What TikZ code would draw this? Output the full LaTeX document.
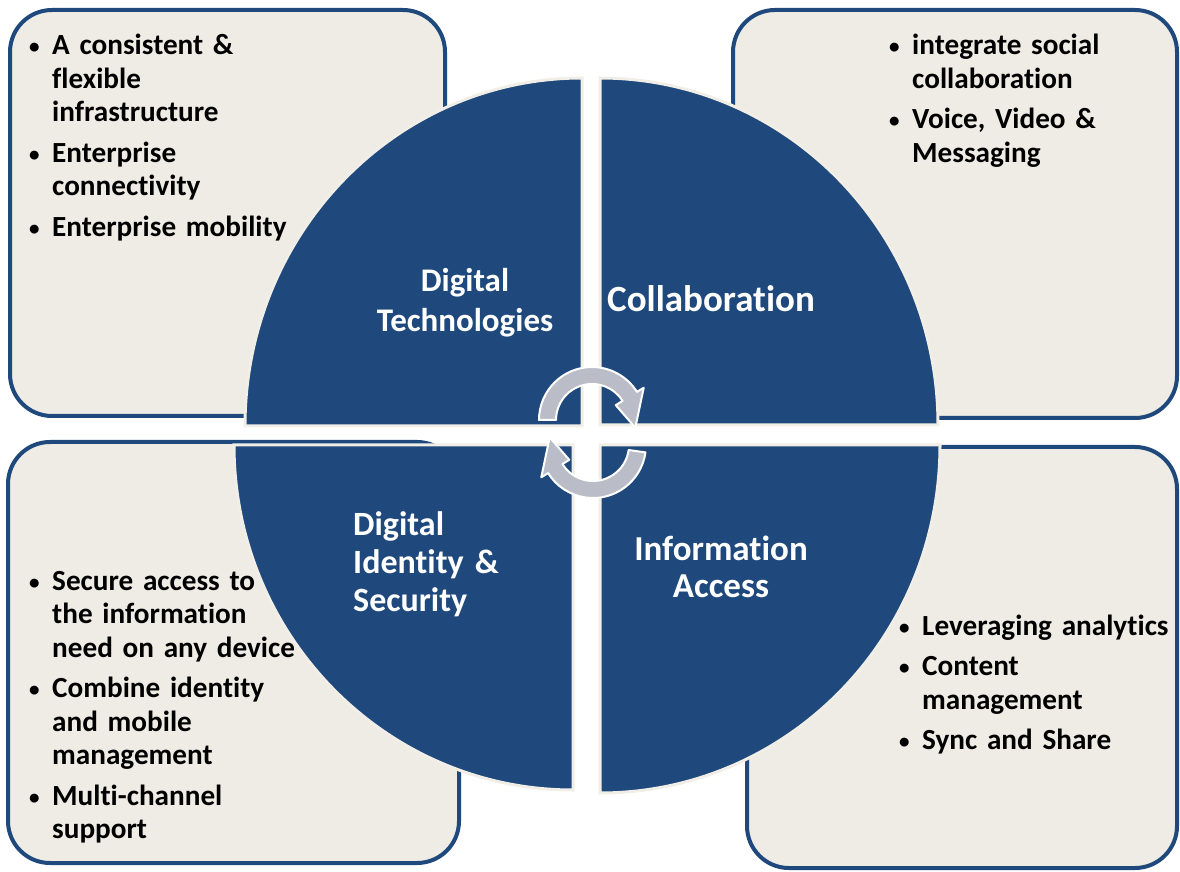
\documentclass[tikz,border=0pt]{standalone}
\usepackage{fontspec}
\setmainfont{Carlito}[Ligatures=NoCommon]
\definecolor{navy}{RGB}{31,73,125}
\definecolor{paper}{RGB}{238,236,228}
\definecolor{rim}{RGB}{240,238,230}
\definecolor{turngray}{RGB}{186,189,199}
\newcommand{\bitem}[1]{\parskip=7pt\raggedright\hangindent=23pt\hangafter=1%
  \makebox[23pt][l]{\raisebox{1pt}{\fontsize{21}{21}\selectfont\textbullet}}#1\par}
\begin{document}
\begin{tikzpicture}[x=1pt,y=1pt,
  panel/.style={draw=navy,line width=4pt,fill=paper,rounded corners=42pt},
  quarter/.style={fill=navy,draw=rim,line width=3pt},
  turn/.style={fill=turngray,draw=white,line width=2pt,line join=round},
  notes/.style={anchor=base west,inner sep=0pt,text width=300pt,
    font=\bfseries\fontsize{29.2}{33.5}\selectfont},
  title/.style={anchor=base,inner sep=0pt,text width=260pt,align=center,text=white,
    font=\bfseries\fontsize{33}{40}\selectfont}]
\useasboundingbox (0,0) rectangle (1180,871);
% boxes
\draw[panel] (10,455) rectangle (445,861);
\draw[panel] (733,453) rectangle (1177,861);
\draw[panel] (8,8) rectangle (459,429);
\draw[panel] (747,3) rectangle (1177,424);
% quarters
\draw[quarter] (582,445) -- (245,445) arc[start angle=180,end angle=90,x radius=337,y radius=348] -- cycle;
\draw[quarter] (600,446) -- (600,793) arc[start angle=90,end angle=0,x radius=338,y radius=347] -- cycle;
\draw[quarter] (573,426) -- (234,426) arc[start angle=180,end angle=270,x radius=339,y radius=345] -- cycle;
\draw[quarter] (600,426) -- (940,426) arc[start angle=0,end angle=-90,x radius=340,y radius=348] -- cycle;
% turning arrows
\coordinate (ctop) at (592,451);
\coordinate (cbot) at (593,426);
\filldraw[turn] ([shift={(ctop)}]180:53) arc[start angle=180,end angle=32,radius=53]
  -- ([shift={(ctop)}]32:61) -- ([shift={(ctop)}]-10:44) -- ([shift={(ctop)}]32:28)
  -- ([shift={(ctop)}]32:36) arc[start angle=32,end angle=180,radius=36] -- cycle;
\filldraw[turn] ([shift={(cbot)}]-8:53) arc[start angle=-8,end angle=-148,radius=53]
  -- ([shift={(cbot)}]-148:61) -- ([shift={(cbot)}]170:44) -- ([shift={(cbot)}]-148:28)
  -- ([shift={(cbot)}]-148:36) arc[start angle=-148,end angle=-8,radius=36] -- cycle;
% labels
\node[title] (dtlabel) at (465,579) {Digital\\Technologies};
\node[title,font=\bfseries\fontsize{37}{40}\selectfont] (collabel) at (711,559) {Collaboration};
\node[title,anchor=base west,align=left,font=\bfseries\fontsize{34}{38}\selectfont] (idlabel) at (353,336) {Digital\\Identity \&\\Security};
\node[title,font=\bfseries\fontsize{35}{37}\selectfont] (ialabel) at (721,311) {Information\\Access};
% lists
\node[notes] (dtlist) at (29,816) {\bitem{A consistent \&\newline flexible\newline infrastructure}\bitem{Enterprise\newline connectivity}\bitem{Enterprise mobility}};
\node[notes] (collist) at (889,816) {\bitem{integrate social\newline collaboration}\bitem{Voice, Video \&\newline Messaging}};
\node[notes] (idlist) at (29,281) {\bitem{Secure access to\newline the information\newline need on any device}\bitem{Combine identity\newline and mobile\newline management}\bitem{Multi-channel\newline support}};
\node[notes] (ialist) at (899,236) {\bitem{Leveraging analytics}\bitem{Content\newline management}\bitem{Sync and Share}};
\end{tikzpicture}
\end{document}
